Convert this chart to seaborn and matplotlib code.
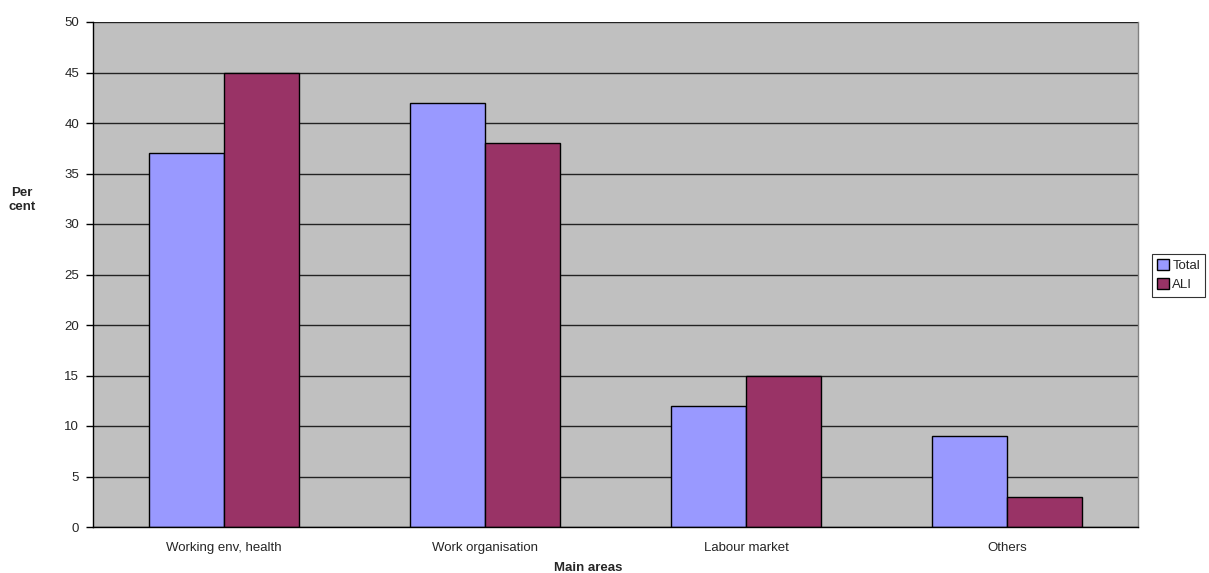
import matplotlib
matplotlib.use("Agg")
import matplotlib.pyplot as plt
import seaborn as sns
import pandas as pd
import numpy as np

categories = ["Working env, health", "Work organisation", "Labour market", "Others"]
total_values = [37, 42, 12, 9]
ali_values = [45, 38, 15, 3]
series_names = ["Total", "ALI"]
y_ticks = [0, 5, 10, 15, 20, 25, 30, 35, 40, 45, 50]

df = pd.DataFrame({
    "area": categories * 2,
    "series": [series_names[0]] * len(categories) + [series_names[1]] * len(categories),
    "value": total_values + ali_values,
})

sns.set_style("white")
plt.rcParams["font.family"] = ["Liberation Sans", "DejaVu Sans"]

FS = 9.5
colors = ["#9999FF", "#993366"]

fig = plt.figure(figsize=(12.09, 5.73), dpi=100)
ax = fig.add_axes([93 / 1209, 1 - 527 / 573, (1138 - 93) / 1209, (527 - 22) / 573])
ax.set_facecolor("#C0C0C0")

sns.barplot(data=df, x="area", y="value", hue="series", order=categories,
            hue_order=series_names, palette=colors, saturation=1,
            width=0.575, edgecolor="black", linewidth=1.0, ax=ax, legend=False)

ax.set_xlim(-0.5, len(categories) - 0.5)
ax.set_ylim(0, 50)
ax.set_yticks(y_ticks)
ax.set_yticklabels([str(t) for t in y_ticks], fontsize=FS)
ax.yaxis.grid(True, color="#222222", linewidth=1.0)
ax.set_axisbelow(True)

# category labels centred, tick marks on category boundaries
ax.set_xticks(range(len(categories)))
ax.set_xticklabels(categories, fontsize=FS)
ax.set_xticks(np.arange(-0.5, len(categories), 1.0), minor=True)
ax.tick_params(axis="x", which="major", length=0, pad=11)
ax.tick_params(axis="x", which="minor", length=4, width=1, color="black", direction="out")
ax.tick_params(axis="y", which="major", length=5, width=1, color="black", direction="out", pad=5,
               left=True)

ax.spines["top"].set_visible(False)
ax.spines["right"].set_color("#808080")
ax.spines["right"].set_linewidth(1.0)
for side in ["left", "bottom"]:
    ax.spines[side].set_color("black")
    ax.spines[side].set_linewidth(1.0)

ax.set_xlabel("")
ax.set_ylabel("")
fig.text(22 / 1209, 1 - 200 / 573, "Per\ncent", fontsize=FS, fontweight="bold",
         ha="center", va="center", linespacing=1.15)
fig.text(588 / 1209, 1 - 568 / 573, "Main areas", fontsize=FS, fontweight="bold",
         ha="center", va="center")

handles = [plt.Rectangle((0, 0), 1, 1, facecolor=c, edgecolor="black", linewidth=1.0)
           for c in colors]
leg = fig.legend(handles, series_names, loc="upper left",
                 bbox_to_anchor=(1152 / 1209, 1 - 254 / 573), fontsize=FS,
                 frameon=True, fancybox=False, shadow=False, borderpad=0.4,
                 handlelength=0.9, handleheight=0.9, handletextpad=0.25,
                 labelspacing=0.45, borderaxespad=0)
leg.get_frame().set_edgecolor("black")
leg.get_frame().set_linewidth(0.8)

fig.savefig("out.png", dpi=100, facecolor="white")
